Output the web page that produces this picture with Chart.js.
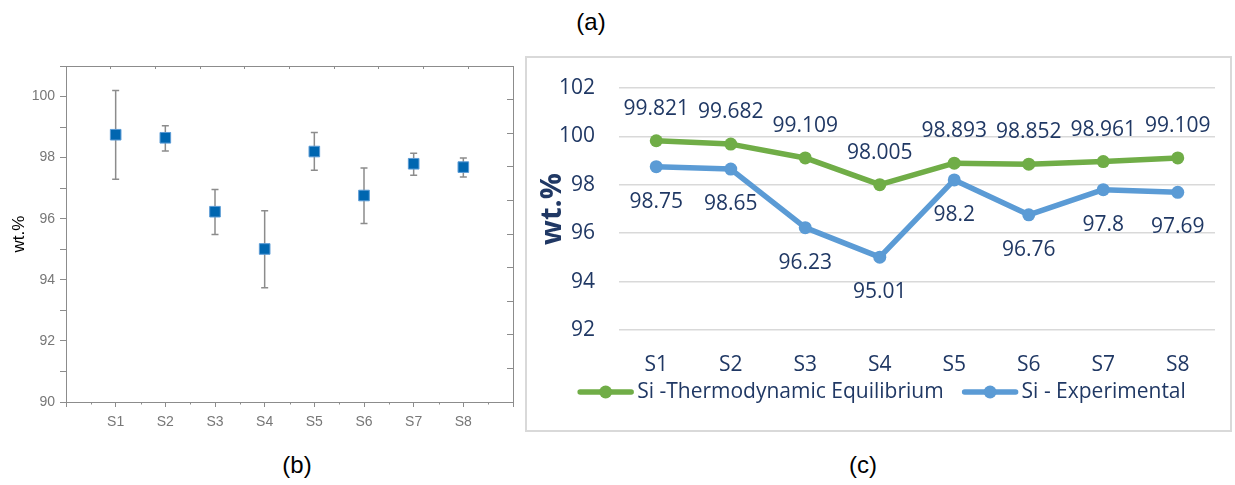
<!DOCTYPE html>
<html>
<head>
<meta charset="utf-8">
<script src="https://cdn.jsdelivr.net/npm/chart.js@4.4.1/dist/chart.umd.min.js"></script>
<style>
  html, body { margin: 0; padding: 0; background: #fff; }
  body { width: 1235px; height: 485px; position: relative; overflow: hidden; font-family: 'Liberation Sans', Arial, sans-serif; }
  .lbl { position: absolute; width: 60px; text-align: center; font-size: 24px; line-height: 28px; color: #000; }
  #boxB { position: absolute; left: 0; top: 40px; width: 530px; height: 420px; }
  #boxC { position: absolute; left: 525px; top: 56px; width: 703px; height: 372px; border: 2px solid #d9d9d9; }
</style>
</head>
<body>
<div class="lbl" style="left:561px; top:8px;">(a)</div>
<div class="lbl" style="left:267px; top:451px;">(b)</div>
<div class="lbl" style="left:833px; top:451px;">(c)</div>
<div id="boxB"><canvas id="chartB"></canvas></div>
<div id="boxC"><canvas id="chartC"></canvas></div>

<script>
// data
const cats = ['S1', 'S2', 'S3', 'S4', 'S5', 'S6', 'S7', 'S8'];
const expMean = [98.75, 98.65, 96.23, 95.01, 98.2, 96.76, 97.8, 97.69];
const expHigh = [100.2, 99.04, 96.96, 96.26, 98.82, 97.66, 98.14, 97.99];
const expLow  = [97.29, 98.22, 95.48, 93.74, 97.59, 95.84, 97.42, 97.37];
const thermo  = [99.821, 99.682, 99.109, 98.005, 98.893, 98.852, 98.961, 99.109];

const ARIAL = "'Liberation Sans', Arial, sans-serif";
const SANS = "'Open Sans', 'Noto Sans', sans-serif";
const navy = '#203864';
const frame = '#8c8c8c';

// pin axis sizes so the plot areas land where the figure has them
const fixW = w => s => { s.width = w; s.paddingTop = 0; s.paddingBottom = 0; };
const fixH = h => s => { s.height = h; s.paddingLeft = 0; s.paddingRight = 0; };

// (b) error bars drawn under the squares
const errorBars = {
    id: 'errorBars',
    beforeDatasetsDraw(chart) {
        const { ctx, scales: { x, y } } = chart;
        ctx.save();
        ctx.strokeStyle = '#8c8c8c';
        ctx.lineWidth = 1.5;
        expMean.forEach((v, i) => {
            const px = x.getPixelForValue(i + 1);
            const top = y.getPixelForValue(expHigh[i]);
            const bot = y.getPixelForValue(expLow[i]);
            ctx.beginPath();
            ctx.moveTo(px, top); ctx.lineTo(px, bot);
            ctx.moveTo(px - 3.5, top); ctx.lineTo(px + 3.5, top);
            ctx.moveTo(px - 3.5, bot); ctx.lineTo(px + 3.5, bot);
            ctx.stroke();
        });
        ctx.restore();
    }
};

// short minor ticks between categories on the bottom axis
const minorTicks = {
    id: 'minorTicks',
    afterDraw(chart) {
        const { ctx, scales: { x } } = chart;
        const yb = chart.chartArea.bottom;
        ctx.save();
        ctx.strokeStyle = frame;
        ctx.lineWidth = 1;
        for (let v = 0.5; v < x.max; v += 1) {
            const px = Math.round(x.getPixelForValue(v)) + 0.5;
            ctx.beginPath(); ctx.moveTo(px, yb); ctx.lineTo(px, yb + 2.5); ctx.stroke();
        }
        ctx.restore();
    }
};

new Chart(document.getElementById('chartB'), {
    type: 'scatter',
    data: {
        datasets: [{
            data: expMean.map((v, i) => ({ x: i + 1, y: v })),
            pointStyle: 'rect',
            pointRadius: 7.5,
            pointHoverRadius: 7.5,
            backgroundColor: '#0066b0',
            borderColor: '#5b9bd5',
            borderWidth: 1
        }]
    },
    options: {
        responsive: true,
        maintainAspectRatio: false,
        animation: false,
        layout: { padding: { left: 0, right: 17, top: 26, bottom: 0 } },
        plugins: { legend: { display: false }, tooltip: { enabled: false } },
        scales: {
            x: {
                type: 'linear', position: 'bottom', min: 0, max: 9,
                ticks: { stepSize: 1, autoSkip: false, maxRotation: 0, padding: 7, color: '#777', font: { family: ARIAL, size: 14 },
                    callback: v => cats[v - 1] || '' },
                grid: { drawOnChartArea: false, tickLength: 5, color: frame },
                border: { color: frame },
                afterFit: fixH(58)
            },
            y: {
                min: 90, max: 101,
                ticks: { stepSize: 1, padding: 5, color: '#777', font: { family: ARIAL, size: 14 },
                    callback: v => (v % 2 === 0 ? v : '') },
                grid: { drawOnChartArea: false, tickLength: 6, color: frame },
                border: { color: frame },
                title: { display: true, text: 'wt.%', color: '#000', font: { family: ARIAL, size: 17 }, padding: { top: 9, bottom: 0 } },
                afterFit: fixW(66)
            },
            x2: {
                type: 'linear', position: 'top', min: 0, max: 10,
                ticks: { display: false, stepSize: 1 },
                grid: { drawOnChartArea: false, tickLength: -3, color: frame },
                border: { color: frame },
                afterFit: fixH(0)
            },
            y2: {
                type: 'linear', position: 'right', min: 0, max: 10,
                ticks: { display: false, stepSize: 1 },
                grid: { drawOnChartArea: false, tickLength: -6, color: frame },
                border: { color: frame },
                afterFit: fixW(0)
            }
        }
    },
    plugins: [errorBars, minorTicks]
});

// (c) value labels: first series above the point, second below
const labelShift = [-32, 35];
const valueLabels = {
    id: 'valueLabels',
    afterDatasetsDraw(chart) {
        const ctx = chart.ctx;
        ctx.save();
        ctx.font = `21px ${SANS}`;
        ctx.fillStyle = navy;
        ctx.textAlign = 'center';
        ctx.textBaseline = 'middle';
        chart.data.datasets.forEach((ds, di) => {
            chart.getDatasetMeta(di).data.forEach((pt, i) => {
                ctx.fillText(String(ds.data[i]), pt.x, pt.y + labelShift[di]);
            });
        });
        ctx.restore();
    }
};

// legend with line + dot marker, drawn by hand for tight spacing
const legendC = {
    id: 'legendC',
    afterDraw(chart) {
        const ctx = chart.ctx;
        ctx.save();
        ctx.font = `21px ${SANS}`;
        const items = chart.data.datasets.map(ds => ({ ds, w: ctx.measureText(ds.label).width }));
        const mark = 57, gap = 3, sep = 18;
        const total = items.reduce((a, it) => a + mark + gap + it.w, 0) + sep * (items.length - 1);
        let x = chart.width / 2 - total / 2 + 3;
        const y = 334;
        items.forEach(it => {
            const c = it.ds.borderColor;
            ctx.strokeStyle = c;
            ctx.lineWidth = 5.5;
            ctx.lineCap = 'round';
            ctx.beginPath(); ctx.moveTo(x + 3, y); ctx.lineTo(x + mark - 3, y); ctx.stroke();
            ctx.fillStyle = c;
            ctx.beginPath(); ctx.arc(x + mark / 2, y, 6.5, 0, Math.PI * 2); ctx.fill();
            ctx.fillStyle = navy;
            ctx.textAlign = 'left';
            ctx.textBaseline = 'middle';
            ctx.fillText(it.ds.label, x + mark + gap, y);
            x += mark + gap + it.w + sep;
        });
        ctx.restore();
    }
};

const lineStyle = (color) => ({
    borderColor: color, backgroundColor: color, pointBackgroundColor: color,
    borderWidth: 5.5, pointRadius: 6.5, pointHoverRadius: 6.5, pointBorderWidth: 0,
    borderJoinStyle: 'round', borderCapStyle: 'round', tension: 0
});

new Chart(document.getElementById('chartC'), {
    type: 'line',
    data: {
        labels: cats,
        datasets: [
            { label: 'Si -Thermodynamic Equilibrium', data: thermo, ...lineStyle('#70ad47') },
            { label: 'Si - Experimental', data: expMean, ...lineStyle('#5b9bd5') }
        ]
    },
    options: {
        responsive: true,
        maintainAspectRatio: false,
        animation: false,
        layout: { padding: { left: 0, right: 15, top: 30, bottom: 0 } },
        plugins: { legend: { display: false }, tooltip: { enabled: false } },
        scales: {
            x: {
                offset: true,
                grid: { display: false },
                border: { display: false },
                ticks: { color: navy, font: { family: SANS, size: 21 }, padding: 14, maxRotation: 0 },
                afterFit: fixH(100)
            },
            y: {
                min: 92, max: 102,
                ticks: { stepSize: 2, padding: 24, color: navy, font: { family: SANS, size: 21 } },
                grid: { color: '#d9d9d9', lineWidth: 1.5, drawTicks: false },
                border: { display: false },
                title: { display: true, text: 'wt.%', color: navy, font: { family: SANS, size: 29, weight: 'bold' }, padding: { top: 8, bottom: 0 } },
                afterFit: fixW(92)
            }
        }
    },
    plugins: [valueLabels, legendC]
});
</script>
</body>
</html>
